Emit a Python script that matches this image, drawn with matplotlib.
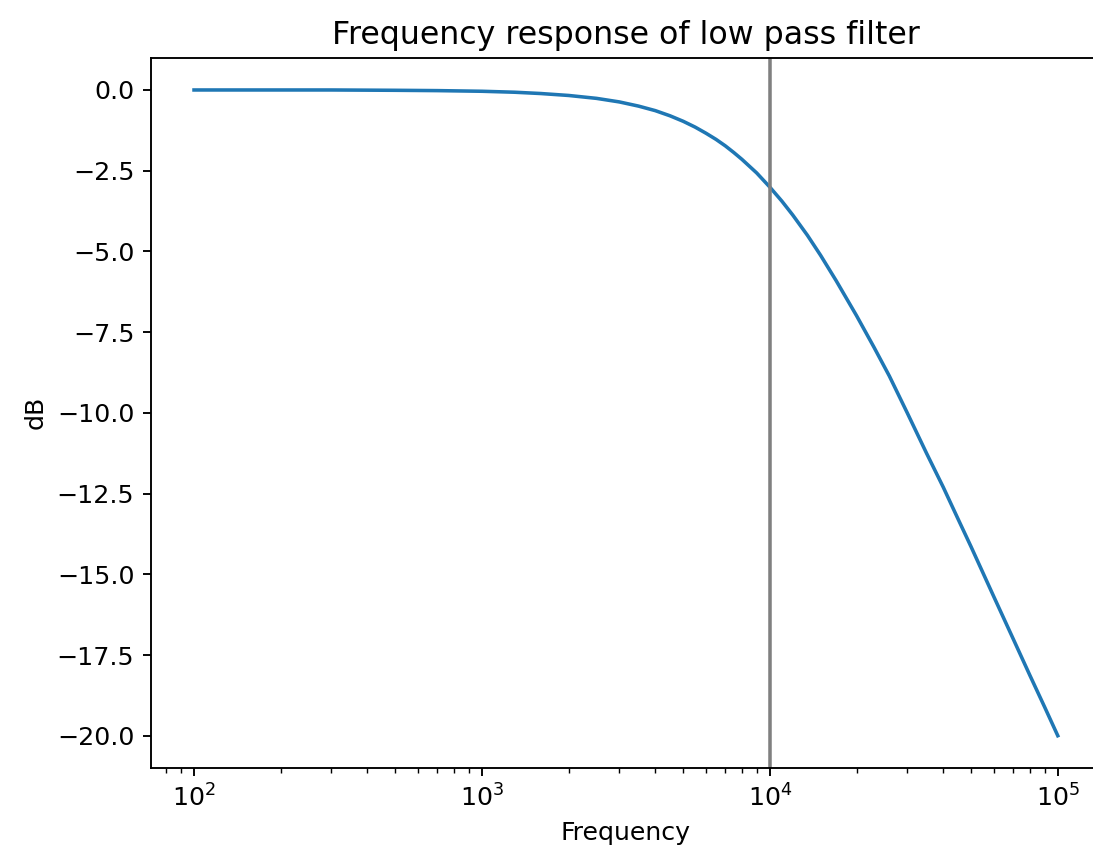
import matplotlib
matplotlib.use('Agg')
import matplotlib.pyplot as plt

# values
freqs = [100, 200, 300, 500, 700, 1000, 1300, 1600, 2000, 2500, 3000, 3500, 4000,
         4500, 5000, 5500, 6000, 6500, 7000, 7500, 8000, 9000, 10000, 11000,
         12000, 13500, 15000, 17000, 20000, 23000, 26000, 30000, 35000, 40000,
         45000, 50000, 60000, 70000, 80000, 90000, 100000]
gain_db = [0.00, -0.00, -0.00, -0.01, -0.02, -0.04, -0.07, -0.11, -0.17, -0.26,
           -0.37, -0.50, -0.64, -0.80, -0.97, -1.15, -1.34, -1.53, -1.73, -1.94,
           -2.15, -2.57, -3.01, -3.44, -3.87, -4.50, -5.12, -5.91, -6.99, -7.97,
           -8.86, -10.00, -11.25, -12.30, -13.28, -14.15, -15.70, -17.00, -18.13,
           -19.11, -20.00]
cutoff = 10000

fig = plt.figure(figsize=(1093 / 170, 861 / 170), dpi=170)
ax = fig.add_subplot(111)
# the reference is cut off at the right, so the axes runs past the edge
fig.subplots_adjust(left=0.138, right=1.0073, top=0.933, bottom=0.108)

ax.semilogx(freqs, gain_db)
ax.axvline(cutoff, color='grey')
ax.set_title('Frequency response of low pass filter', fontsize=13.4)
ax.set_xlabel('Frequency', fontsize=10.7)
ax.set_ylabel('dB', fontsize=10.7)
ax.tick_params(labelsize=10.7)

fig.savefig('out.png', dpi=170)
